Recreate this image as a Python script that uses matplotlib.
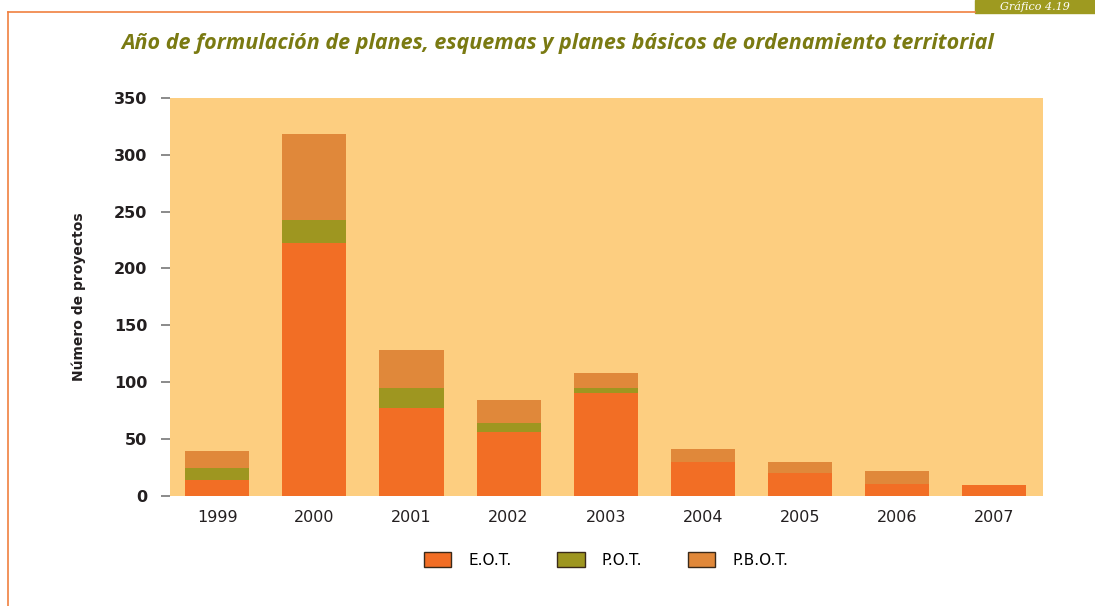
import numpy as np
import matplotlib
matplotlib.use("Agg")
import matplotlib.pyplot as plt
import matplotlib.patches as patch

# data
years = ["1999", "2000", "2001", "2002", "2003", "2004", "2005", "2006", "2007"]
eot = [14, 222, 77, 56, 90, 30, 20, 10, 9]
pot = [10, 21, 18, 8, 5, 0, 0, 0, 0]
pbot = [15, 75, 33, 20, 13, 11, 10, 12, 0]
series_names = ["E.O.T.", "P.O.T.", "P.B.O.T."]
yticks = [0, 50, 100, 150, 200, 250, 300, 350]

c_eot = "#F26E25"
c_pot = "#9E9620"
c_pbot = "#E0883A"
c_bg = "#FDCE80"
c_title = "#7A7A12"

fig = plt.figure(figsize=(10.95, 6.06), dpi=100)

# frame lines and the "Gráfico" tab in the corner
fig.add_artist(plt.Line2D([8 / 1095, 975 / 1095], [1 - 12 / 606, 1 - 12 / 606],
                          color="#F08040", lw=1.2))
fig.add_artist(plt.Line2D([8 / 1095, 8 / 1095], [0, 1 - 12 / 606],
                          color="#F08040", lw=1.2))
fig.add_artist(patch.Rectangle((975 / 1095, 1 - 13 / 606), 120 / 1095, 13 / 606,
                               color="#9E9A20", transform=fig.transFigure))
fig.text(1035 / 1095, 1 - 6.5 / 606, "Gráfico 4.19", color="white", fontsize=8,
         style="italic", family="DejaVu Serif", ha="center", va="center")

ax = fig.add_axes([170 / 1095, 1 - 495.7 / 606, 873 / 1095, 397.7 / 606])
ax.set_facecolor(c_bg)

x = np.arange(len(years))
w = 0.66
bottom2 = np.array(eot) + np.array(pot)
ax.bar(x, eot, w, color=c_eot, zorder=2)
ax.bar(x, pot, w, bottom=eot, color=c_pot, zorder=2)
ax.bar(x, pbot, w, bottom=bottom2, color=c_pbot, zorder=2)

ax.set_xlim(-0.485, 8.5)
ax.set_ylim(0, 350)
ax.set_yticks(yticks)
ax.set_yticklabels([str(v) for v in yticks], fontsize=11.5, fontweight="bold", color="#231F20")
ax.set_xticks(x)
ax.set_xticklabels(years, fontsize=11.5, color="#231F20")
ax.tick_params(axis="x", length=0, pad=10)
ax.tick_params(axis="y", length=6.5, width=1.2, color="#777777", pad=10)
for s in ax.spines.values():
    s.set_visible(False)

ax.set_ylabel("Número de proyectos", fontsize=10, fontweight="bold", color="#231F20", labelpad=20)

fig.suptitle("Año de formulación de planes, esquemas y planes básicos de ordenamiento territorial",
             x=558 / 1095, y=1 - 44 / 606, va="center", fontsize=15.5, fontweight="bold",
             style="italic", color=c_title, family="Open Sans")

handles = [patch.Patch(facecolor=c, edgecolor="#3a2a1a", lw=1, label=n)
           for c, n in zip([c_eot, c_pot, c_pbot], series_names)]
fig.legend(handles=handles, loc="center", bbox_to_anchor=(606 / 1095, 1 - 560 / 606),
           ncol=3, frameon=False, fontsize=11, handlelength=1.8, handleheight=1.05,
           handletextpad=1.1, columnspacing=3.0)

fig.savefig("out.png", dpi=100)
